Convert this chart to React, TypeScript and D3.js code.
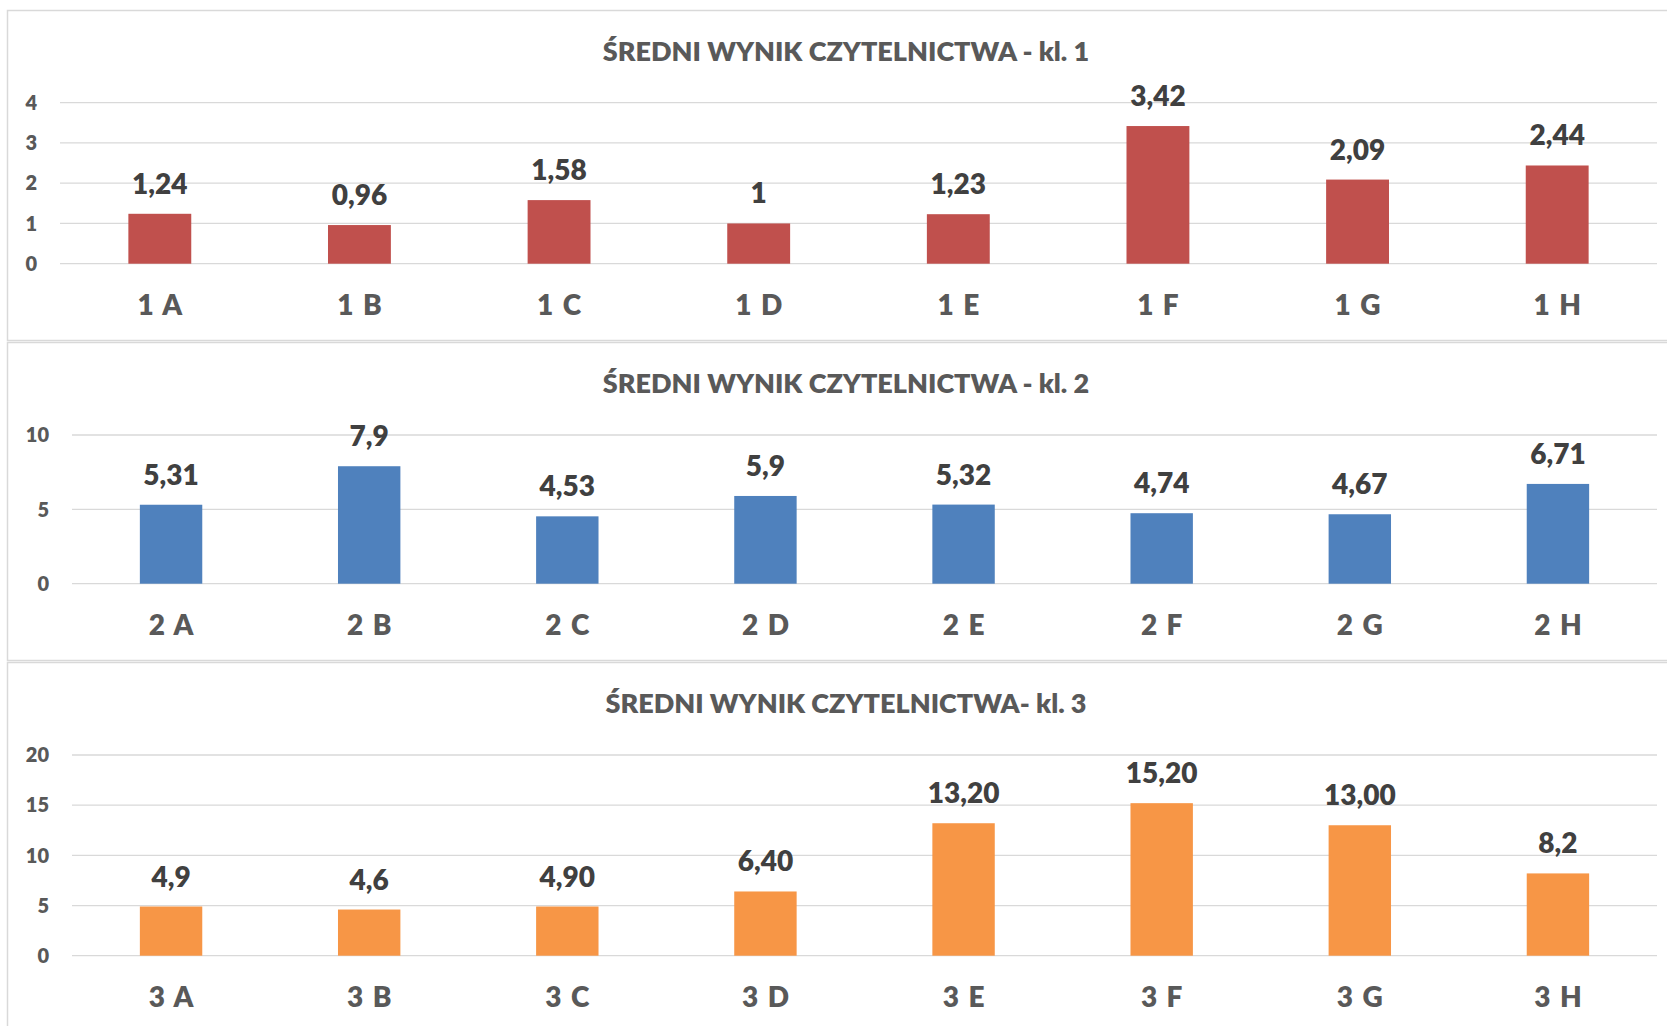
import React from 'react';
import * as d3 from 'd3';

// class names on the x axis
const classes1 = ['1 A', '1 B', '1 C', '1 D', '1 E', '1 F', '1 G', '1 H'];
const classes2 = ['2 A', '2 B', '2 C', '2 D', '2 E', '2 F', '2 G', '2 H'];
const classes3 = ['3 A', '3 B', '3 C', '3 D', '3 E', '3 F', '3 G', '3 H'];

// average reading score per class
const scores1 = [1.24, 0.96, 1.58, 1, 1.23, 3.42, 2.09, 2.44];
const scores2 = [5.31, 7.9, 4.53, 5.9, 5.32, 4.74, 4.67, 6.71];
const scores3 = [4.9, 4.6, 4.9, 6.4, 13.2, 15.2, 13.0, 8.2];

// data labels exactly as printed on the chart
const labels1 = ['1,24', '0,96', '1,58', '1', '1,23', '3,42', '2,09', '2,44'];
const labels2 = ['5,31', '7,9', '4,53', '5,9', '5,32', '4,74', '4,67', '6,71'];
const labels3 = ['4,9', '4,6', '4,90', '6,40', '13,20', '15,20', '13,00', '8,2'];

const yTicks1 = [0, 1, 2, 3, 4];
const yTicks2 = [0, 5, 10];
const yTicks3 = [0, 5, 10, 15, 20];

const titles = [
  'ŚREDNI WYNIK CZYTELNICTWA - kl. 1',
  'ŚREDNI WYNIK CZYTELNICTWA - kl. 2',
  'ŚREDNI WYNIK CZYTELNICTWA- kl. 3',
];

const FONT = 'Lato, "Open Sans", sans-serif';
const GRID = '#d9d9d9';

type PanelProps = {
  title: string;
  classes: string[];
  scores: number[];
  labels: string[];
  ticks: number[];
  color: string;
  top: number;
  bottom: number;
  left: number;
  gridTop: number;
  zeroY: number;
};

const Panel = ({ title, classes, scores, labels, ticks, color, top, bottom, left, gridTop, zeroY }: PanelProps) => {
  const right = 1657;
  const x = d3.scaleBand<string>()
    .domain(classes)
    .range([left, right])
    .paddingInner(0.685)
    .paddingOuter(0.3425);
  const y = d3.scaleLinear()
    .domain([0, d3.max(ticks) as number])
    .range([top + zeroY, top + gridTop]);

  return (
    <g>
      <rect x={7.5} y={top + 0.5} width={1700} height={bottom - top} fill="#fff" stroke={GRID} strokeWidth={1.5} />
      <text x={846} y={top + 50.5} textAnchor="middle" fontFamily={FONT} fontWeight={800} fontSize={27} fill="#595959">
        {title}
      </text>
      {ticks.map(t => (
        <g key={t}>
          <line x1={left} x2={right} y1={y(t)} y2={y(t)} stroke={GRID} strokeWidth={1.3} />
          <text x={left - 23} y={y(t)} dy="0.36em" textAnchor="end" fontFamily={FONT} fontWeight={800} fontSize={20} fill="#595959">
            {t}
          </text>
        </g>
      ))}
      {classes.map((c, i) => (
        <g key={c}>
          <rect x={x(c)} y={y(scores[i])} width={x.bandwidth()} height={y(0) - y(scores[i])} fill={color} />
          <text x={(x(c) as number) + x.bandwidth() / 2} y={y(scores[i]) - 20} textAnchor="middle" fontFamily={FONT} fontWeight={800} fontSize={28} fill="#404040">
            {labels[i]}
          </text>
          <text x={(x(c) as number) + x.bandwidth() / 2} y={y(0) + 51} textAnchor="middle" fontFamily={FONT} fontWeight={800} fontSize={28} wordSpacing={3} fill="#595959">
            {c}
          </text>
        </g>
      ))}
    </g>
  );
};

export default function App() {
  return (
    <svg width={1667} height={1026} style={{ position: 'absolute', left: 0, top: 0, background: '#fff' }}>
      <Panel title={titles[0]} classes={classes1} scores={scores1} labels={labels1} ticks={yTicks1}
        color="#C0504D" top={10} bottom={340} left={60} gridTop={92.7} zeroY={253.7} />
      <Panel title={titles[1]} classes={classes2} scores={scores2} labels={labels2} ticks={yTicks2}
        color="#4F81BD" top={342} bottom={660} left={72} gridTop={93} zeroY={241.7} />
      <Panel title={titles[2]} classes={classes3} scores={scores3} labels={labels3} ticks={yTicks3}
        color="#F79646" top={662} bottom={1040} left={72} gridTop={93} zeroY={293.7} />
    </svg>
  );
}
